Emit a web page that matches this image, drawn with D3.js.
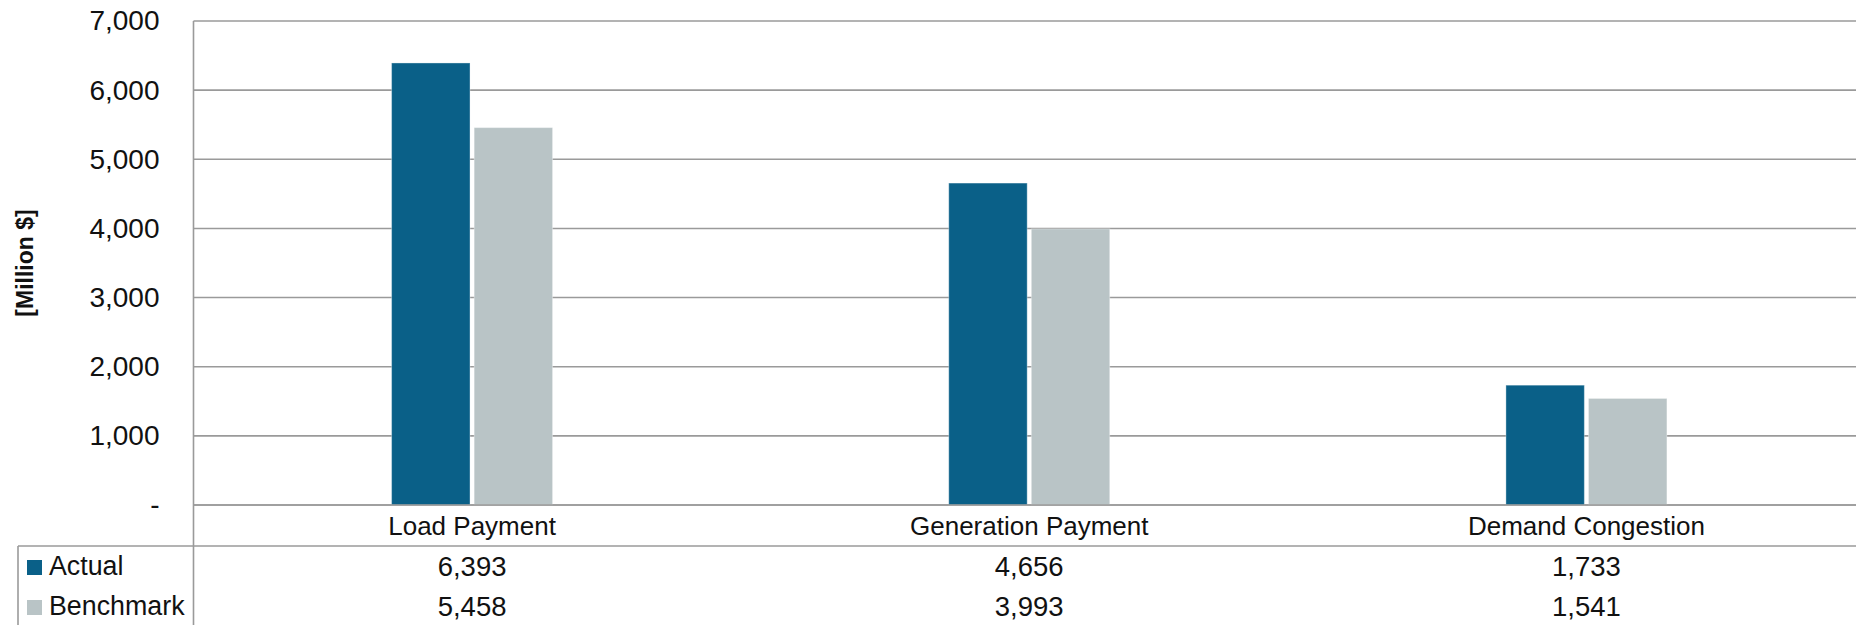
<!DOCTYPE html>
<html>
<head>
<meta charset="utf-8">
<script src="https://cdn.jsdelivr.net/npm/d3@7"></script>
<style>
  html, body { margin: 0; padding: 0; background: #fff; }
  svg { display: block; font-family: "Liberation Sans", Arial, sans-serif; }
</style>
</head>
<body>
<svg id="chart" width="1856" height="625"></svg>
<script>
// Market payments vs. benchmark, in million dollars
const categories = ["Load Payment", "Generation Payment", "Demand Congestion"];
const seriesNames = ["Actual", "Benchmark"];
const actualValues = [6393, 4656, 1733];
const benchmarkValues = [5458, 3993, 1541];
const yTicks = [0, 1000, 2000, 3000, 4000, 5000, 6000, 7000];
const seriesColors = ["#0a6088", "#b9c4c6"];

const svg = d3.select("#chart");
const W = 1856, H = 625;

const plot = { left: 193.5, right: 1865, top: 21, bottom: 505 };
const tableRows = { catBottom: 546, rowActual: 576, rowBench: 616 };
const tableLeft = 18;

const x = d3.scaleBand()
  .domain(categories)
  .range([plot.left, plot.right])
  .paddingInner(0).paddingOuter(0);

const inner = d3.scaleBand()
  .domain(seriesNames)
  .range([0, 161])
  .paddingInner(0.05);

const y = d3.scaleLinear().domain([0, 7000]).range([plot.bottom, plot.top]);

const gridColor = "#9a9a9a";

// y axis tick labels
const yAxis = d3.axisLeft(y)
  .tickValues(yTicks)
  .tickSize(0)
  .tickPadding(34)
  .tickFormat(d => d === 0 ? "-" : d3.format(",")(d));

const gy = svg.append("g")
  .attr("transform", `translate(${plot.left},0)`)
  .call(yAxis);
gy.select(".domain").remove();
gy.selectAll("text")
  .attr("font-size", 28)
  .attr("fill", "#111")
  .attr("font-family", "Liberation Sans, Arial, sans-serif");

// horizontal gridlines
svg.append("g")
  .selectAll("line")
  .data(yTicks)
  .join("line")
  .attr("x1", plot.left).attr("x2", W)
  .attr("y1", d => y(d)).attr("y2", d => y(d))
  .attr("stroke", gridColor)
  .attr("stroke-width", 1.6);

// bars
const series = [actualValues, benchmarkValues];
const groupOffset = (x.bandwidth() - inner.range()[1]) / 2;

const groups = svg.append("g")
  .selectAll("g")
  .data(categories)
  .join("g")
  .attr("transform", d => `translate(${x(d) + groupOffset},0)`);

groups.selectAll("rect")
  .data((c, i) => seriesNames.map((s, j) => ({ s, v: series[j][i], j })))
  .join("rect")
  .attr("x", d => inner(d.s))
  .attr("width", inner.bandwidth())
  .attr("y", d => y(d.v))
  .attr("height", d => y(0) - y(d.v))
  .attr("fill", d => seriesColors[d.j])
  .attr("stroke", "rgba(255,255,255,0.35)")
  .attr("stroke-width", 1);

// axis line at zero and vertical axis line
svg.append("line")
  .attr("x1", plot.left).attr("x2", W)
  .attr("y1", y(0)).attr("y2", y(0))
  .attr("stroke", gridColor).attr("stroke-width", 1.6);

svg.append("line")
  .attr("x1", plot.left).attr("x2", plot.left)
  .attr("y1", plot.top).attr("y2", H)
  .attr("stroke", gridColor).attr("stroke-width", 1.6);

// data table grid
svg.append("line")
  .attr("x1", tableLeft).attr("x2", W)
  .attr("y1", tableRows.catBottom).attr("y2", tableRows.catBottom)
  .attr("stroke", gridColor).attr("stroke-width", 1.6);

svg.append("line")
  .attr("x1", tableLeft).attr("x2", tableLeft)
  .attr("y1", tableRows.catBottom).attr("y2", H)
  .attr("stroke", gridColor).attr("stroke-width", 1.6);

// category labels
svg.append("g")
  .selectAll("text")
  .data(categories)
  .join("text")
  .attr("x", d => x(d) + x.bandwidth() / 2)
  .attr("y", 535)
  .attr("text-anchor", "middle")
  .attr("font-size", 26)
  .attr("fill", "#111")
  .text(d => d);

// table values
const fmt = d3.format(",");
[tableRows.rowActual, tableRows.rowBench].forEach((ry, j) => {
  svg.append("g")
    .selectAll("text")
    .data(categories)
    .join("text")
    .attr("x", d => x(d) + x.bandwidth() / 2)
    .attr("y", ry)
    .attr("text-anchor", "middle")
    .attr("font-size", 27.5)
    .attr("fill", "#111")
    .text((d, i) => fmt(series[j][i]));
});

// legend keys in the table
seriesNames.forEach((s, j) => {
  const ry = j === 0 ? tableRows.rowActual : tableRows.rowBench;
  svg.append("rect")
    .attr("x", 27).attr("y", ry - 16)
    .attr("width", 15).attr("height", 15)
    .attr("fill", seriesColors[j]);
  svg.append("text")
    .attr("x", 49).attr("y", ry - 1)
    .attr("font-size", 26.8)
    .attr("fill", "#111")
    .text(s);
});

// y axis title
svg.append("text")
  .attr("transform", "translate(33,263) rotate(-90)")
  .attr("text-anchor", "middle")
  .attr("font-size", 23)
  .attr("font-weight", "bold")
  .attr("fill", "#111")
  .text("[Million $]");
</script>
</body>
</html>
